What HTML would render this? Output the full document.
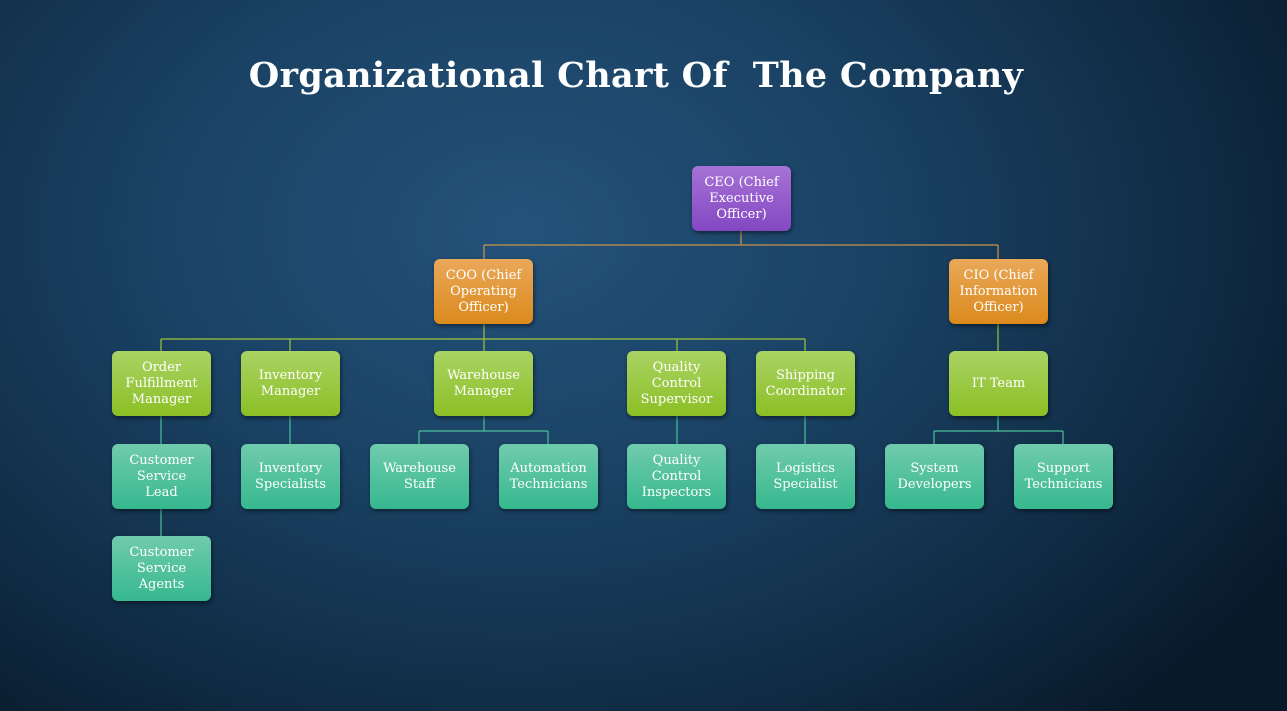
<!DOCTYPE html>
<html><head><meta charset="utf-8"><style>
html,body{margin:0;padding:0}
body{width:1287px;height:711px;position:relative;overflow:hidden;
background:radial-gradient(ellipse 900px 650px at 520px 230px,#24527a 0%,#1a4264 40%,#102c45 75%,#081a2a 100%);
font-family:"DejaVu Serif","Liberation Serif",serif;}
h1{position:absolute;left:0;width:1272px;top:55px;margin:0;text-align:center;color:#fff;font-weight:bold;font-size:35px;letter-spacing:0.3px;font-family:"DejaVu Serif","Liberation Serif",serif}
.b{position:absolute;width:99px;height:65px;border-radius:6px;color:#fff;font-size:13px;line-height:16px;text-align:center;display:flex;align-items:center;justify-content:center;box-shadow:1px 2px 4px rgba(0,0,0,.5);box-sizing:border-box;padding:0 7px}
.p{background:linear-gradient(#a673d6,#8447c2)}
.o{background:linear-gradient(#eaa85a,#db8a1c)}
.g{background:linear-gradient(#a9d364,#8cbf25)}
.t{background:linear-gradient(#70cbad,#36b88e)}
svg{position:absolute;left:0;top:0}
</style></head><body>
<h1>Organizational Chart Of &nbsp;The Company</h1>
<svg width="1287" height="711">
<g stroke="#c9944a" stroke-width="1.2" fill="none">
<path d="M741 231V245M484 245H998M484 245V259M998 245V259"/>
</g>
<g stroke="#9cc63a" stroke-width="1.2" fill="none">
<path d="M484 324V339M161 339H805M161 339V351M290 339V351M484 339V351M677 339V351M805 339V351M998 324V351"/>
</g>
<g stroke="#4cbf9a" stroke-width="1.2" fill="none">
<path d="M161 416V444M161 509V536M290 416V444M484 416V431M419 431H548M419 431V444M548 431V444M677 416V444M805 416V444M998 416V431M934 431H1063M934 431V444M1063 431V444"/>
</g>
</svg>
<div class="b p" style="left:692px;top:166px">CEO (Chief Executive Officer)</div>
<div class="b o" style="left:434px;top:259px">COO (Chief Operating Officer)</div>
<div class="b o" style="left:949px;top:259px">CIO (Chief Information Officer)</div>
<div class="b g" style="left:112px;top:351px">Order Fulfillment Manager</div>
<div class="b g" style="left:241px;top:351px">Inventory Manager</div>
<div class="b g" style="left:434px;top:351px">Warehouse Manager</div>
<div class="b g" style="left:627px;top:351px">Quality Control Supervisor</div>
<div class="b g" style="left:756px;top:351px">Shipping Coordinator</div>
<div class="b g" style="left:949px;top:351px">IT Team</div>
<div class="b t" style="left:112px;top:444px">Customer<br>Service<br>Lead</div>
<div class="b t" style="left:241px;top:444px">Inventory Specialists</div>
<div class="b t" style="left:370px;top:444px">Warehouse Staff</div>
<div class="b t" style="left:499px;top:444px">Automation Technicians</div>
<div class="b t" style="left:627px;top:444px">Quality Control Inspectors</div>
<div class="b t" style="left:756px;top:444px">Logistics Specialist</div>
<div class="b t" style="left:885px;top:444px">System Developers</div>
<div class="b t" style="left:1014px;top:444px">Support Technicians</div>
<div class="b t" style="left:112px;top:536px">Customer Service Agents</div>
</body></html>
